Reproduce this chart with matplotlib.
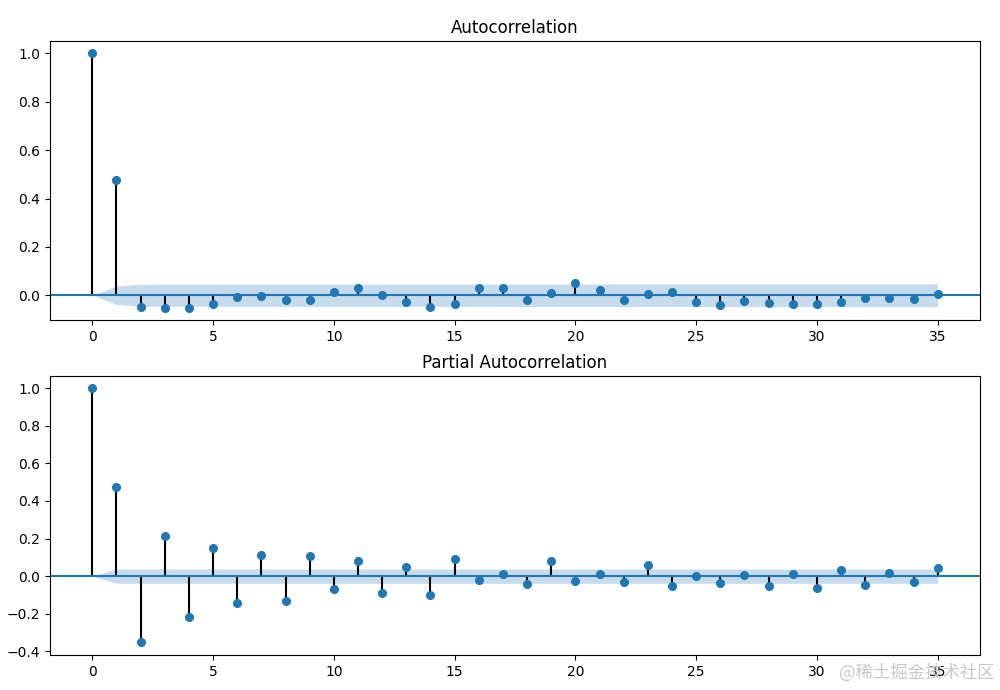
import matplotlib
matplotlib.use("Agg")
import matplotlib.pyplot as plt
import numpy as np

lags = list(range(36))

acf_vals = [1.0, 0.475, -0.047, -0.052, -0.052, -0.036, -0.008, -0.005, -0.019, -0.019,
            0.015, 0.029, 0.002, -0.027, -0.047, -0.036, 0.032, 0.032, -0.019, 0.010,
            0.051, 0.022, -0.019, 0.007, 0.015, -0.027, -0.040, -0.023, -0.031, -0.036,
            -0.036, -0.027, -0.010, -0.010, -0.016, 0.006]

# half-width of the ACF confidence band at each lag
acf_band = [0.0, 0.038, 0.0455, 0.0456, 0.0457, 0.0458, 0.0459, 0.0459, 0.0459, 0.0459,
            0.046, 0.046, 0.0461, 0.0461, 0.0461, 0.0462, 0.0462, 0.0463, 0.0464, 0.0464,
            0.0464, 0.0465, 0.0466, 0.0466, 0.0466, 0.0466, 0.0467, 0.0467, 0.0468, 0.0468,
            0.0469, 0.0469, 0.047, 0.047, 0.047, 0.047]

pacf_vals = [1.0, 0.477, -0.353, 0.216, -0.215, 0.152, -0.145, 0.115, -0.135, 0.105,
             -0.071, 0.078, -0.092, 0.051, -0.103, 0.089, -0.023, 0.012, -0.043, 0.080,
             -0.027, 0.011, -0.032, 0.059, -0.053, 0.002, -0.037, 0.005, -0.053, 0.011,
             -0.064, 0.032, -0.048, 0.016, -0.032, 0.044]

pacf_band = [0.0] + [0.038] * 35

titles = ["Autocorrelation", "Partial Autocorrelation"]

fig = plt.figure(figsize=(10, 6.9), dpi=100)
ax1 = fig.add_axes([0.05, 0.536, 0.93, 0.404])
ax2 = fig.add_axes([0.05, 0.0507, 0.93, 0.404])

for ax, vals, band, title in [(ax1, acf_vals, acf_band, titles[0]),
                              (ax2, pacf_vals, pacf_band, titles[1])]:
    v = np.array(vals)
    b = np.array(band)
    ax.vlines(lags, [0], v, colors="black", linewidth=1.5)
    ax.plot(lags, v, marker="o", markersize=5.5, linestyle="None", color="C0")
    ax.axhline(0, color="C0", linewidth=1.5)
    ax.fill_between(lags, -b, b, alpha=0.25, color="C0", linewidth=0)
    ax.set_title(title, fontsize=12)
    ax.set_xlim(-1.75, 36.75)
    ax.tick_params(labelsize=10)

ax1.set_ylim(-0.103, 1.05)
ax2.set_ylim(-0.42, 1.064)

fig.text(0.995, 0.025, "@稀土掘金技术社区", ha="right", va="center",
         fontsize=12.5, color="#c8c8c8",
         family=["Noto Sans CJK SC", "DejaVu Sans"])

fig.savefig("out.png", dpi=100)
